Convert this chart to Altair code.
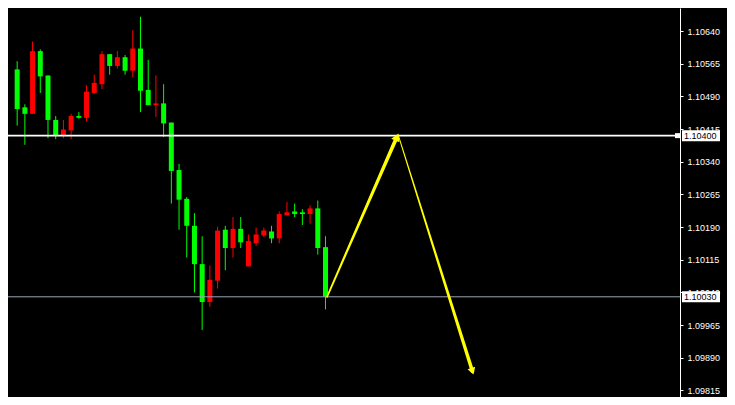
import math
import altair as alt
import pandas as pd

# ---------------- data ----------------
opens = [1.10552, 1.10465, 1.10450, 1.10594, 1.10538, 1.10436, 1.10401, 1.10412, 1.10445, 1.10441,
         1.10498, 1.10518, 1.10587, 1.10560, 1.10580, 1.10549, 1.10600, 1.10505, 1.10470, 1.10474,
         1.10430, 1.10321, 1.10255, 1.10193, 1.10105, 1.10018, 1.10067, 1.10184, 1.10142, 1.10186,
         1.10100, 1.10153, 1.10171, 1.10180, 1.10164, 1.10217, 1.10226, 1.10224, 1.10220, 1.10233,
         1.10144]
closes = [1.10461, 1.10450, 1.10594, 1.10536, 1.10436, 1.10401, 1.10414, 1.10445, 1.10441, 1.10501,
          1.10521, 1.10587, 1.10560, 1.10580, 1.10549, 1.10600, 1.10503, 1.10470, 1.10474, 1.10428,
          1.10319, 1.10253, 1.10193, 1.10105, 1.10018, 1.10069, 1.10182, 1.10142, 1.10186, 1.10155,
          1.10158, 1.10173, 1.10182, 1.10164, 1.10220, 1.10224, 1.10220, 1.10220, 1.10233, 1.10142,
          1.10030]
highs = [1.10571, 1.10472, 1.10616, 1.10598, 1.10538, 1.10445, 1.10436, 1.10450, 1.10454, 1.10516,
         1.10540, 1.10594, 1.10587, 1.10594, 1.10585, 1.10642, 1.10673, 1.10574, 1.10538, 1.10518,
         1.10430, 1.10335, 1.10259, 1.10222, 1.10169, 1.10102, 1.10191, 1.10193, 1.10213, 1.10213,
         1.10173, 1.10189, 1.10189, 1.10193, 1.10226, 1.10248, 1.10244, 1.10231, 1.10240, 1.10251,
         1.10169]
lows = [1.10423, 1.10379, 1.10450, 1.10498, 1.10394, 1.10392, 1.10394, 1.10392, 1.10439, 1.10432,
        1.10496, 1.10507, 1.10540, 1.10554, 1.10540, 1.10534, 1.10454, 1.10470, 1.10443, 1.10397,
        1.10244, 1.10184, 1.10120, 1.10040, 1.09954, 1.10007, 1.10049, 1.10091, 1.10120, 1.10142,
        1.10100, 1.10147, 1.10167, 1.10153, 1.10153, 1.10217, 1.10213, 1.10195, 1.10198, 1.10127,
        1.10001]

tick_values = [1.09815, 1.09890, 1.09965, 1.10040, 1.10115, 1.10190,
               1.10265, 1.10340, 1.10415, 1.10490, 1.10565, 1.10640]

level_prices = [1.10400, 1.10030]
level_labels = ["1.10400", "1.10030"]

up_arrow_x = [40.2, 49.26]
up_arrow_y = [1.10030, 1.10397]
down_arrow_x = [49.46, 59.06]
down_arrow_y = [1.10400, 1.09859]

# ---------------- layout / style ----------------
W, H = 672, 389
RIGHT = 47
X_DOMAIN = [-0.54, 85.34]
Y_DOMAIN = [1.09800, 1.10693]
GREEN, RED, YELLOW = "#00ff00", "#ff0000", "#ffff00"
FONT = "Liberation Sans"

candles = pd.DataFrame({
    "i": list(range(len(opens))),
    "open": opens, "close": closes, "high": highs, "low": lows,
})
levels = pd.DataFrame({"price": level_prices, "label": level_labels})

xscale = alt.Scale(domain=X_DOMAIN, nice=False, zero=False)
yscale = alt.Scale(domain=Y_DOMAIN, nice=False, zero=False)

yaxis = alt.Axis(orient="right", values=tick_values, format=".5f", grid=False,
                 domainColor="white", domainWidth=1, tickColor="white", tickSize=3,
                 labelColor="white", labelFont=FONT, labelFontSize=9, labelPadding=4,
                 labelOverlap=False, labelBound=False, title=None)


def Y(field):
    return alt.Y(field, scale=yscale, axis=yaxis)


def X(field):
    return alt.X(field, scale=xscale, axis=None)


color_cond = alt.condition("datum.open > datum.close", alt.value(GREEN), alt.value(RED))

wicks = alt.Chart(candles).mark_rule(strokeWidth=1).encode(
    x=X("i:Q"), y=Y("low:Q"), y2="high:Q", color=color_cond)
bodies = alt.Chart(candles).mark_bar(size=5).encode(
    x=X("i:Q"), y=Y("open:Q"), y2="close:Q", color=color_cond)

white_line = alt.Chart(levels.iloc[[0]]).mark_rule(color="white", strokeWidth=1.6).encode(
    y=Y("price:Q"))
grey_line = alt.Chart(levels.iloc[[1]]).mark_rule(color="#9aa6b2", strokeWidth=1).encode(
    y=Y("price:Q"))
axis_marker = alt.Chart(levels.iloc[[0]]).mark_rule(color="white", strokeWidth=5).encode(
    x=alt.value(W - 5), x2=alt.value(W), y=Y("price:Q"))
label_boxes = alt.Chart(levels).mark_rule(color="white", strokeWidth=11).encode(
    x=alt.value(W + 2), x2=alt.value(W + 40), y=Y("price:Q"))
label_texts = alt.Chart(levels).mark_text(align="left", baseline="middle", font=FONT,
                                          fontSize=9, color="black").encode(
    x=alt.value(W + 4), y=Y("price:Q"), text="label:N")

# arrows (tapered trail + triangle head)
px_x = W / (X_DOMAIN[1] - X_DOMAIN[0])
px_y = H / (Y_DOMAIN[1] - Y_DOMAIN[0])


def head_angle(xs, ys):
    dx = (xs[1] - xs[0]) * px_x
    dy = -(ys[1] - ys[0]) * px_y  # screen coordinates (down positive)
    return math.degrees(math.atan2(dx, -dy)) % 360


arrow_rows = []
for name, xs, ys, w0, w1 in [("up", up_arrow_x, up_arrow_y, 1.7, 3.8),
                              ("down", down_arrow_x, down_arrow_y, 1.0, 3.6)]:
    arrow_rows.append({"arrow": name, "seq": 0, "x": xs[0], "y": ys[0], "w": w0})
    arrow_rows.append({"arrow": name, "seq": 1, "x": xs[1], "y": ys[1], "w": w1})
arrows = pd.DataFrame(arrow_rows)

heads = pd.DataFrame({
    "x": [up_arrow_x[1], down_arrow_x[1]],
    "y": [up_arrow_y[1], down_arrow_y[1]],
    "ang": [head_angle(up_arrow_x, up_arrow_y), head_angle(down_arrow_x, down_arrow_y)],
    "s": [80, 64],
})

trails = alt.Chart(arrows).mark_trail(color=YELLOW).encode(
    x=X("x:Q"), y=Y("y:Q"),
    size=alt.Size("w:Q", scale=None, legend=None),
    detail="arrow:N", order="seq:Q",
)
arrow_heads = alt.Chart(heads).mark_point(shape="triangle-up", filled=True, opacity=1,
                                          color=YELLOW, strokeWidth=0).encode(
    x=X("x:Q"), y=Y("y:Q"),
    angle=alt.Angle("ang:Q", scale=None),
    size=alt.Size("s:Q", scale=None, legend=None),
)

chart = alt.layer(
    wicks, bodies, white_line, grey_line, trails, arrow_heads,
    axis_marker, label_boxes, label_texts,
).properties(
    width=W, height=H,
    autosize=alt.AutoSizeParams(type="none"),
    padding={"left": 0, "right": RIGHT, "top": 0, "bottom": 0},
    background="#000000",
).configure_view(strokeWidth=0)

chart.save("out.html", embed_options={"renderer": "svg", "actions": False})
